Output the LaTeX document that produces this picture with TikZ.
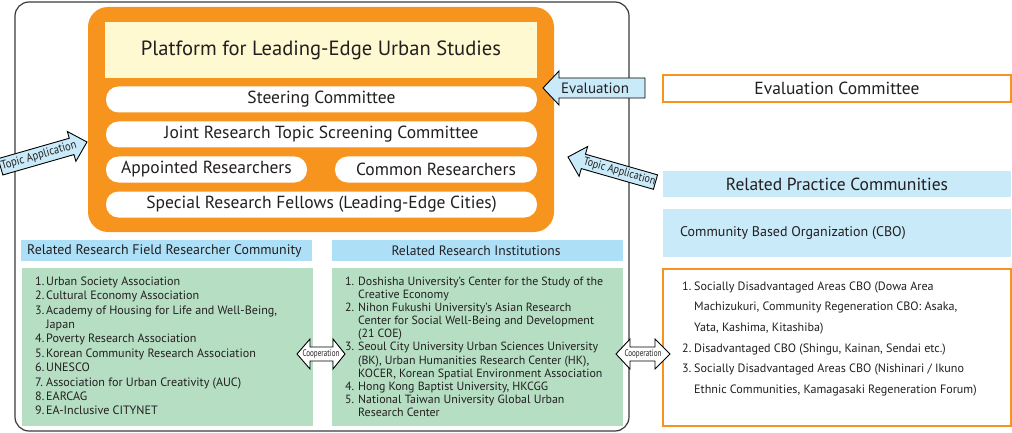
\documentclass[tikz,border=0pt]{standalone}
\usepackage{fontspec}
\setmainfont{PT Sans}
\definecolor{orng}{HTML}{F7941D}
\definecolor{ylw}{HTML}{FFF9D2}
\definecolor{hdrblue}{HTML}{ADDFF7}
\definecolor{ltblue}{HTML}{C9EAF8}
\definecolor{grn}{HTML}{B5DEC3}
\definecolor{txt}{HTML}{231F20}
\definecolor{frame}{HTML}{3A3A3A}
\begin{document}
\begin{tikzpicture}[x=1pt,y=-1pt,
  every node/.style={inner sep=0pt, text=txt},
  pill/.style={fill=white, rounded corners=12.5pt, minimum height=26pt, font=\fontsize{17.5}{19}\selectfont},
  obox/.style={draw=orng, line width=1.2pt, fill=white},
  hbox/.style={fill=hdrblue, minimum height=21pt, minimum width=291pt},
  gbox/.style={fill=grn, minimum height=158pt, minimum width=291pt},
  bbox/.style={fill=ltblue, minimum width=348pt},
  blockarrow/.style={draw=black, line width=0.9pt, fill=ltblue, line join=miter},
  listtxt/.style={align=left, anchor=north west},
  small/.style={font=\fontsize{9.5}{10}\selectfont}
]
\useasboundingbox (0,0) rectangle (1012,433);
% outer frame
\draw[frame, line width=1.2pt, rounded corners=14pt] (15,2) rectangle (629,431);
% orange platform
\node[fill=orng, rounded corners=20pt, minimum width=466pt, minimum height=225pt] (orange) at (321,119.5) {};
\node[fill=ylw, minimum width=432pt, minimum height=56pt, font=\fontsize{20.6}{23}\selectfont] (platform) at (321,50) {Platform for Leading-Edge Urban Studies};
\node[pill, minimum width=431pt] (steer) at (321.5,99.5) {Steering Committee};
\node[pill, minimum width=431pt] (joint) at (321.5,134.5) {Joint Research Topic Screening Committee};
\node[pill, minimum width=201pt] (appoint) at (206.5,169.5) {Appointed Researchers};
\node[pill, minimum width=202pt] (common) at (436,169.5) {Common Researchers};
\node[pill, minimum width=431pt] (special) at (321.5,204.5) {Special Research Fellows (Leading-Edge Cities)};

% Evaluation arrow
\draw[blockarrow] (543,88) -- (559,71) -- (559,78) -- (645,78) -- (645,98) -- (559,98) -- (559,105) -- cycle;
\node[font=\fontsize{15}{17}\selectfont] (evaltxt) at (595,88) {Evaluation};

% right Topic Application arrow
\begin{scope}[shift={(568,157)}, rotate=-16]
\draw[blockarrow] (0,0) -- (16,-15.5) -- (16,-7.5) -- (91,-7.5) -- (91,7.5) -- (16,7.5) -- (16,15.5) -- cycle;
\node[rotate=-16, font=\fontsize{11.5}{12}\selectfont] (topicR) at (53.5,0) {\scalebox{0.88}[1]{Topic Application}};
\end{scope}

% left Topic Application arrow
\begin{scope}[shift={(87,142)}, rotate=16]
\draw[blockarrow] (0,0) -- (-16,-15.5) -- (-16,-8.5) -- (-90,-8.5) -- (-90,8.5) -- (-16,8.5) -- (-16,15.5) -- cycle;
\node[rotate=16, font=\fontsize{12}{13}\selectfont] (topicL) at (-50,0) {\scalebox{0.88}[1]{Topic Application}};
\end{scope}

% right side boxes
\node[obox, minimum width=348pt, minimum height=27pt, font=\fontsize{17.5}{19}\selectfont] (evalc) at (837,88.5) {Evaluation Committee};
\node[bbox, minimum height=26pt, font=\fontsize{17.5}{19}\selectfont] (rpc) at (837,184) {Related Practice Communities};
\node[bbox, minimum height=48pt] (cbo) at (837,233) {};
\node[anchor=west, font=\fontsize{14}{16}\selectfont] (cbotxt) at (680,233) {Community Based Organization (CBO)};
\node[obox, minimum width=348pt, minimum height=157pt] (cbolist) at (837,347.5) {};
\node[listtxt, font=\fontsize{12.1}{20.6}\selectfont] (cbolisttxt) at (682,281.5) {%
\makebox[12pt][l]{1.}Socially Disadvantaged Areas CBO (Dowa Area\\
\hspace*{12pt}Machizukuri, Community Regeneration CBO: Asaka,\\
\hspace*{12pt}Yata, Kashima, Kitashiba)\\
\makebox[12pt][l]{2.}Disadvantaged CBO (Shingu, Kainan, Sendai etc.)\\
\makebox[12pt][l]{3.}Socially Disadvantaged Areas CBO (Nishinari / Ikuno\\
\hspace*{12pt}Ethnic Communities, Kamagasaki Regeneration Forum)};

% bottom left
\node[hbox] (hleft) at (166.5,250.5) {};
\node[anchor=west, font=\fontsize{13.9}{15}\selectfont] (hlefttxt) at (27,250.5) {Related Research Field Researcher Community};
\node[gbox] (gleft) at (167,347) {};
\node[listtxt, font=\fontsize{12.1}{14.4}\selectfont] (glefttxt) at (35,276.5) {%
\makebox[11pt][l]{1.}Urban Society Association\\
\makebox[11pt][l]{2.}Cultural Economy Association\\
\makebox[11pt][l]{3.}Academy of Housing for Life and Well-Being,\\
\hspace*{11pt}Japan\\
\makebox[11pt][l]{4.}Poverty Research Association\\
\makebox[11pt][l]{5.}Korean Community Research Association\\
\makebox[11pt][l]{6.}UNESCO\\
\makebox[11pt][l]{7.}Association for Urban Creativity (AUC)\\
\makebox[11pt][l]{8.}EARCAG\\
\makebox[11pt][l]{9.}EA-Inclusive CITYNET};

\node[hbox] (hright) at (477.5,250.5) {};
\node[font=\fontsize{13.6}{15}\selectfont] (hrighttxt) at (476,250.5) {Related Research Institutions};
\node[gbox] (gright) at (477.5,347) {};
\node[listtxt, font=\fontsize{11.9}{13.15}\selectfont] (grighttxt) at (345,276.5) {%
\makebox[13pt][l]{1.}Doshisha University's Center for the Study of the\\
\hspace*{13pt}Creative Economy\\
\makebox[13pt][l]{2.}Nihon Fukushi University's Asian Research\\
\hspace*{13pt}Center for Social Well-Being and Development\\
\hspace*{13pt}(21 COE)\\
\makebox[13pt][l]{3.}Seoul City University Urban Sciences University\\
\hspace*{13pt}(BK), Urban Humanities Research Center (HK),\\
\hspace*{13pt}KOCER, Korean Spatial Environment Association\\
\makebox[13pt][l]{4.}Hong Kong Baptist University, HKCGG\\
\makebox[13pt][l]{5.}National Taiwan University Global Urban\\
\hspace*{13pt}Research Center};

% cooperation arrows
\draw[blockarrow, fill=white] (297,354) -- (310,339) -- (310,347) -- (333,347) -- (333,339) -- (345,354) -- (333,369) -- (333,361) -- (310,361) -- (310,369) -- cycle;
\node[small] (coop1) at (321,354) {\scalebox{0.75}[1]{Cooperation}};
\draw[blockarrow, fill=white] (616,354) -- (630,339) -- (630,347) -- (655,347) -- (655,339) -- (670,354) -- (655,369) -- (655,361) -- (630,361) -- (630,369) -- cycle;
\node[small] (coop2) at (643,354) {\scalebox{0.75}[1]{Cooperation}};
\end{tikzpicture}
\end{document}
